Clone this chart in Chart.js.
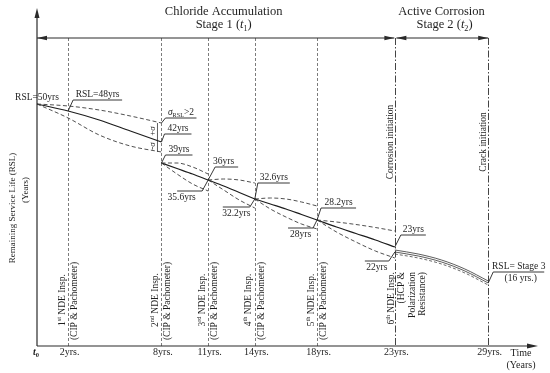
<!DOCTYPE html>
<html><head><meta charset="utf-8">
<script src="https://cdn.jsdelivr.net/npm/chart.js@4/dist/chart.umd.min.js"></script>
<style>html,body{margin:0;padding:0;background:#fff}#wrap{width:550px;height:373px;position:relative}</style>
</head><body><div id="wrap"><canvas id="c"></canvas></div>
<script>
// ---------- data (time in years, level in schematic RSL units) ----------
const seg1Years = [0, 2, 4, 6, 8];
const seg1Mean  = [242, 235, 226, 215, 204];
const seg1Upper = [242, 240, 236, 230, 223];
const seg1Lower = [242, 228, 211, 200, 194];

const seg2Years = [8, 9, 10, 11];
const seg2Mean  = [183, 177.5, 172, 166];
const seg2Upper = [183, 183, 179, 172];
const seg2Lower = [183, 172, 162, 155];

const seg3Years = [11, 12, 13, 14];
const seg3Mean  = [166, 160, 153.5, 147];
const seg3Upper = [166, 167, 166, 163];
const seg3Lower = [166, 156, 146, 138];

const seg4Years = [14, 15, 16, 17, 18];
const seg4Mean  = [147, 142, 137, 131.5, 126];
const seg4Upper = [147, 148, 147, 144, 140];
const seg4Lower = [147, 137, 129, 122, 117];

const seg5Years = [18, 19.25, 20.5, 21.75, 23];
const seg5Mean  = [126, 119, 112.5, 106, 99];
const seg5Upper = [126, 124, 121.5, 118.5, 115];
const seg5Lower = [126, 114, 104, 95, 88];

const stage2Years = [23, 24.5, 26, 27.5, 29];
const stage2Mean  = [94, 90, 84, 75, 63];
const stage2Upper = [96, 92, 86, 77, 65];
const stage2Lower = [92, 88, 82, 73, 61];

const inspectionYears = [2, 8, 11, 14, 18];
const inspectionNames = ['1^{st} NDE Insp.', '2^{nd} NDE Insp.', '3^{rd} NDE Insp.', '4^{th} NDE Insp.', '5^{th} NDE Insp.'];
const inspectionMethod = '(CIP & Pachometer)';
const sixthInspection = ['6^{th} NDE Insp.', '(HCP &', 'Polarization', 'Resistance)'];
const milestoneYears = [23, 29];
const milestoneNames = ['Corrosion initiation', 'Crack initiation'];
const tickYears  = [0, 2, 8, 11, 14, 18, 23, 29];
const tickLabels = ['~t~_{0}', '2yrs.', '8yrs.', '11yrs.', '14yrs.', '18yrs.', '23yrs.', '29yrs.'];
const stageBounds = [0, 23, 29];
const stageTitles = [['Chloride Accumulation', 'Stage 1 (~t~_{1})'], ['Active Corrosion', 'Stage 2 (~t~_{2})']];
const stageLineLevel = 308;
const axisMaxYear = 32.2;
const axisMaxLevel = 338;

// callouts: text + anchored data point
const calloutTexts = ['RSL=50yrs', 'RSL=48yrs', '~σ~_{RSL}>2', '42yrs', '39yrs', '36yrs', '35.6yrs', '32.6yrs', '32.2yrs', '28.2yrs', '28yrs', '23yrs', '22yrs', 'RSL= Stage 3'];
const calloutYears  = [0, 2, 8, 8, 8, 11, 11, 14, 14, 18, 18, 23, 23, 29];
const calloutLevels = [242, 235, 223, 204, 183, 166, 166, 147, 147, 126, 126, 99, 94, 63];
const stage3Note = '(16 yrs.)';

// ---------- styling / geometry for leaders (pixels) ----------
const leaderStyle = [
  {dx:0, dy:-7, len:0},
  {dx:5, dy:-11, len:49, side:1, pos:'above'},
  {dx:4, dy:-5, len:31, side:1, pos:'above'},
  {dx:3, dy:-8, len:27, side:1, pos:'above'},
  {dx:4, dy:-8, len:27, side:1, pos:'above'},
  {dx:7, dy:-13, len:23, side:1, pos:'above', tx:-3},
  {dx:-6, dy:11, len:25, side:-1, pos:'below', tx:-8},
  {dx:3, dy:-16, len:32, side:1, pos:'above'},
  {dx:-5, dy:8, len:27, side:-1, pos:'below'},
  {dx:4, dy:-12, len:35, side:1, pos:'above'},
  {dx:-4, dy:8, len:25, side:-1, pos:'below'},
  {dx:6, dy:-12, len:25, side:1, pos:'above'},
  {dx:-6, dy:9, len:24, side:-1, pos:'below'},
  {dx:5, dy:-11, len:51, side:1, pos:'above'}
];

const FAM = '"Liberation Serif", "Times New Roman", serif';
const INK = '#1e1e1e';

function parseRich(s){
  const parts=[]; let i=0, italic=false, buf='';
  const push=()=>{ if(buf){ parts.push({t:buf, mode:'n', italic}); buf=''; } };
  while(i<s.length){
    const c=s[i];
    if((c==='^'||c==='_') && s[i+1]==='{'){
      push();
      const j=s.indexOf('}',i);
      parts.push({t:s.slice(i+2,j), mode:c==='^'?'sup':'sub', italic});
      i=j+1; continue;
    }
    if(c==='~'){ push(); italic=!italic; i++; continue; }
    buf+=c; i++;
  }
  push();
  return parts;
}
function fontFor(p,size,bold){
  const sz = p.mode==='n'?size:size*0.65;
  return (p.italic?'italic ':'')+(bold?'bold ':'')+sz.toFixed(2)+'px '+FAM;
}
function drawRich(ctx,s,x,y,size,align,bold){
  const parts=parseRich(s);
  let w=0;
  for(const p of parts){ ctx.font=fontFor(p,size,bold); p.w=ctx.measureText(p.t).width; w+=p.w; }
  let sx = align==='center'? x-w/2 : align==='right'? x-w : x;
  ctx.textBaseline='middle'; ctx.textAlign='left'; ctx.fillStyle=INK;
  for(const p of parts){
    ctx.font=fontFor(p,size,bold);
    const dy = p.mode==='sup'? -size*0.33 : p.mode==='sub'? size*0.3 : 0;
    ctx.fillText(p.t, sx, y+dy); sx+=p.w;
  }
  return w;
}
function drawRotated(ctx,s,x,y,size,align){
  ctx.save(); ctx.translate(x,y); ctx.rotate(-Math.PI/2);
  drawRich(ctx,s,0,0,size,align,false);
  ctx.restore();
}
function seg(ctx,x1,y1,x2,y2){ ctx.beginPath(); ctx.moveTo(x1,y1); ctx.lineTo(x2,y2); ctx.stroke(); }
function arrow(ctx,tx,ty,dir,len,hw){
  // dir: 'up','right','left'
  ctx.beginPath();
  if(dir==='up'){ ctx.moveTo(tx,ty); ctx.lineTo(tx-hw,ty+len); ctx.lineTo(tx+hw,ty+len); }
  else if(dir==='right'){ ctx.moveTo(tx,ty); ctx.lineTo(tx-len,ty-hw); ctx.lineTo(tx-len,ty+hw); }
  else { ctx.moveTo(tx,ty); ctx.lineTo(tx+len,ty-hw); ctx.lineTo(tx+len,ty+hw); }
  ctx.closePath(); ctx.fill();
}

const diagram = {
  id:'diagram',
  beforeDatasetsDraw(chart){
    const {ctx, scales:{x,y}} = chart;
    ctx.save();
    const yTop = y.getPixelForValue(stageLineLevel), yBot = y.getPixelForValue(0);
    ctx.strokeStyle='#5a5a5a'; ctx.lineWidth=0.8; ctx.setLineDash([3,2]);
    inspectionYears.forEach(t=>{ const px=Math.round(x.getPixelForValue(t))+0.5; seg(ctx,px,yTop,px,yBot); });
    ctx.strokeStyle='#444'; ctx.lineWidth=1; ctx.setLineDash([7,2,1.5,2]);
    milestoneYears.forEach(t=>{ const px=Math.round(x.getPixelForValue(t))+0.5; seg(ctx,px,yTop,px,yBot); });
    ctx.setLineDash([]);
    // sigma bracket at 8 yrs
    const bx = x.getPixelForValue(seg1Years[seg1Years.length-1]) - 4;
    ctx.strokeStyle='#333'; ctx.lineWidth=0.8;
    seg(ctx,bx,y.getPixelForValue(seg1Upper[seg1Upper.length-1]),bx,y.getPixelForValue(seg1Lower[seg1Lower.length-1]));
    ctx.restore();
  },
  afterDatasetsDraw(chart){
    const {ctx, scales:{x,y}} = chart;
    ctx.save();
    const x0 = x.getPixelForValue(0), y0 = y.getPixelForValue(0);
    // axes
    ctx.strokeStyle='#2a2a2a'; ctx.fillStyle='#2a2a2a'; ctx.lineWidth=1.2;
    seg(ctx,x0,y0,x0,y.getPixelForValue(axisMaxLevel)+6);
    arrow(ctx,x0,y.getPixelForValue(axisMaxLevel),'up',10,2.5);
    seg(ctx,x0,y0,x.getPixelForValue(axisMaxYear)-6,y0);
    arrow(ctx,x.getPixelForValue(axisMaxYear),y0,'right',11,2.5);
    // stage arrows
    const ys = y.getPixelForValue(stageLineLevel);
    ctx.lineWidth=1;
    for(let i=0;i<stageBounds.length-1;i++){
      const a=x.getPixelForValue(stageBounds[i]) + (i>0?1.5:0), b=x.getPixelForValue(stageBounds[i+1]) - (i===0?0.5:0);
      seg(ctx,a,ys,b,ys);
      arrow(ctx,a,ys,'left',10,2.2);
      arrow(ctx,b,ys,'right',10,2.2);
    }
    // stage titles
    const titleX = [x.getPixelForValue(12), x.getPixelForValue(26)];
    stageTitles.forEach((tt,i)=>{
      drawRich(ctx,tt[0],titleX[i],12,12.5,'center');
      drawRich(ctx,tt[1],titleX[i]+(i?3:0),25,12.5,'center');
    });
    // y axis title
    drawRotated(ctx,'Remaining Service Life (RSL)',13,208,9,'center');
    drawRotated(ctx,'(Years)',26,190,9,'center');
    // x ticks
    tickYears.forEach((t,i)=>{
      drawRich(ctx,tickLabels[i],x.getPixelForValue(t)+(i?1.5:-1),352,10,'center',i===0);
    });
    drawRich(ctx,'Time',521,353,10,'center');
    drawRich(ctx,'(Years)',521,365,10,'center');
    // inspection labels
    inspectionYears.forEach((t,i)=>{
      const px=x.getPixelForValue(t);
      drawRotated(ctx,inspectionNames[i],px-6,300,9.5,'center');
      drawRotated(ctx,inspectionMethod,px+6.5,301,9.5,'center');
    });
    const p6 = x.getPixelForValue(milestoneYears[0]);
    sixthInspection.forEach((s,i)=>{ drawRotated(ctx,s,p6-3.5+i*10.5,272,9.5,'right'); });
    // milestones
    milestoneYears.forEach((t,i)=>{ drawRotated(ctx,milestoneNames[i],x.getPixelForValue(t)-4.5,142,9.5,'center'); });
    // sigma labels
    const bx = x.getPixelForValue(8) - 9;
    drawRotated(ctx,'+~σ~',bx,131,9,'center');
    drawRotated(ctx,'-~σ~',bx,146,9,'center');
    // callouts
    ctx.strokeStyle='#222'; ctx.lineWidth=0.9;
    calloutTexts.forEach((txt,i)=>{
      const st = leaderStyle[i];
      const ax = x.getPixelForValue(calloutYears[i]), ay = y.getPixelForValue(calloutLevels[i]);
      const kx = ax+st.dx, ky = ay+st.dy;
      if(!st.len){ drawRich(ctx,txt,kx,ky,9.5,'center'); return; }
      seg(ctx,ax,ay,kx,ky);
      const ex = kx + st.side*st.len;
      seg(ctx,kx,ky,ex,ky);
      const cx = (kx+ex)/2 + (st.tx||0);
      const cy = st.pos==='above' ? ky-5.5 : ky+6;
      drawRich(ctx,txt,cx,cy,9.5,'center');
      if(i===calloutTexts.length-1){ drawRich(ctx,stage3Note,cx+2,ky+6.5,9.5,'center'); }
    });
    ctx.restore();
  }
};

function ds(xs, ys, style){
  return Object.assign({
    data: xs.map((t,i)=>({x:t, y:ys[i]})),
    borderColor:'#222', borderWidth:1.2, pointRadius:0,
    cubicInterpolationMode:'monotone', fill:false, clip:false
  }, style);
}
const dashed = {borderColor:'#3c3c3c', borderWidth:0.9, borderDash:[4,2.5]};
const solid = {borderColor:'#1c1c1c', borderWidth:1.2};

const datasets = [
  ds(seg1Years, seg1Upper, dashed), ds(seg1Years, seg1Lower, dashed), ds(seg1Years, seg1Mean, solid),
  ds(seg2Years, seg2Upper, dashed), ds(seg2Years, seg2Lower, dashed), ds(seg2Years, seg2Mean, solid),
  ds(seg3Years, seg3Upper, dashed), ds(seg3Years, seg3Lower, dashed), ds(seg3Years, seg3Mean, solid),
  ds(seg4Years, seg4Upper, dashed), ds(seg4Years, seg4Lower, dashed), ds(seg4Years, seg4Mean, solid),
  ds(seg5Years, seg5Upper, dashed), ds(seg5Years, seg5Lower, dashed), ds(seg5Years, seg5Mean, solid),
  ds(stage2Years, stage2Upper, {borderColor:'#333', borderWidth:0.8}),
  ds(stage2Years, stage2Mean, {borderColor:'#333', borderWidth:0.8}),
  ds(stage2Years, stage2Lower, {borderColor:'#444', borderWidth:0.8, borderDash:[3,2]})
];

new Chart(document.getElementById('c'), {
  type:'line',
  data:{datasets},
  options:{
    responsive:true, maintainAspectRatio:false, animation:false,
    layout:{padding:{left:37, right:12, top:8, bottom:27}},
    plugins:{legend:{display:false}, tooltip:{enabled:false}},
    scales:{
      x:{type:'linear', min:0, max:axisMaxYear, display:false},
      y:{type:'linear', min:0, max:axisMaxLevel, display:false}
    }
  },
  plugins:[diagram]
});
</script>
</body></html>
